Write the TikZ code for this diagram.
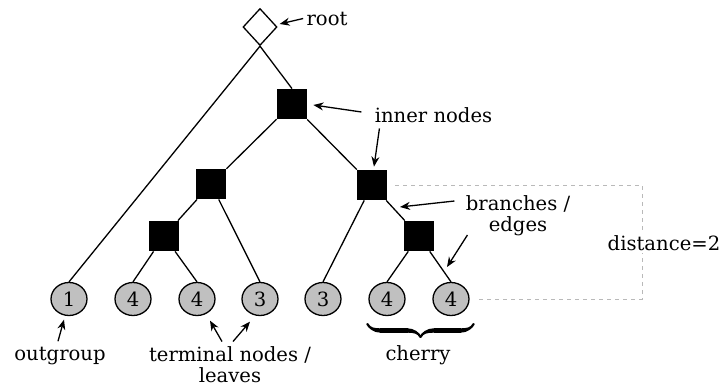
\documentclass[tikz,border=0pt]{standalone}
\usepackage{fontspec}
\setmainfont{DejaVu Serif}
\usepackage{tikz}
\usetikzlibrary{arrows.meta,positioning,shapes,calc,decorations.pathreplacing,calligraphy}
\definecolor{leafgray}{RGB}{192,192,192}
\definecolor{distgray}{RGB}{185,185,185}

\begin{document}
\begin{tikzpicture}[x=0.5pt, y=-0.5pt, font=\fontsize{9.8}{10.5}\selectfont,
    innode/.style={fill=black, minimum size=15pt, inner sep=0pt},
    leafnode/.style={ellipse, draw, line width=0.65pt, fill=leafgray, minimum width=18pt, minimum height=16.5pt, inner sep=0pt},
    branch/.style={line width=0.65pt},
    pointer/.style={-{Stealth[length=5pt,width=4pt]}, line width=0.65pt},
    lbl/.style={inner sep=1.5pt, align=center}]
        \useasboundingbox (0,0) rectangle (722,385);
        % Root and inner nodes
        \node[diamond, draw, line width=0.65pt, minimum width=17pt, minimum height=18.5pt, inner sep=0pt] (root) at (260,27) {};
        \node[innode] (A) at (292,104) {};
        \node[innode] (B) at (211,184) {};
        \node[innode] (C) at (372,185) {};
        \node[innode] (D) at (164,236) {};
        \node[innode] (E) at (419,236) {};
        % Leaves
        \node[leafnode] (L1) at (69,299) {1};
        \node[leafnode] (L2) at (133,299) {4};
        \node[leafnode] (L3) at (197,299) {4};
        \node[leafnode] (L4) at (260,299) {3};
        \node[leafnode] (L5) at (323,299) {3};
        \node[leafnode] (L6) at (387,299) {4};
        \node[leafnode] (L7) at (451,299) {4};
        % Branches
        \draw[branch] (root.south) -- (L1.north);
        \draw[branch] (root.south) -- (A.north);
        \draw[branch] (A) -- (B);
        \draw[branch] (A) -- (C);
        \draw[branch] (B) -- (D);
        \draw[branch] (C) -- (E);
        \draw[branch] (D) -- (L2.north);
        \draw[branch] (D) -- (L3.north);
        \draw[branch] (B) -- (L4.north);
        \draw[branch] (C) -- (L5.north);
        \draw[branch] (E) -- (L6.north);
        \draw[branch] (E) -- (L7.north);
        % Distance between C and its leaf
        \draw[distgray, line width=0.5pt, dash pattern=on 2pt off 2pt] ([xshift=4pt]C.east) -| (642,243) |- ([xshift=4pt]L7.east);
        \node[fill=white, inner sep=1pt] (dist) at (664,243) {distance=2};
        % Labels with arrows
        \node[lbl] (rootlbl) at (327,18.5) {root};
        \draw[pointer] (rootlbl.west) -- ([shift={(2,-3)}]root.east);
        \node[lbl] (innerlbl) at (433.5,115.5) {inner nodes};
        \draw[pointer] ([shift={(-10,-3.5)}]innerlbl.west) -- ([shift={(6,1)}]A.east);
        \draw[pointer] ([shift={(8,2)}]innerlbl.south west) -- ([shift={(2,-3)}]C.north);
        \coordinate (cePt) at (400,207);
        \coordinate (e7Pt) at (447,267);
        \node[lbl] (branchlbl) at (518,216) {branches /\\edges};
        \draw[pointer] ([shift={(-8,-15)}]branchlbl.west) -- (cePt);
        \draw[pointer] ([shift={(5,19)}]branchlbl.west) -- (e7Pt);
        \node[lbl] (outlbl) at (60,356.5) {outgroup};
        \draw[pointer] ([shift={(-2,-3)}]outlbl.north) -- ([shift={(-5,3.5)}]L1.south);
        \node[lbl] (termlbl) at (230,365) {terminal nodes /\\leaves};
        \draw[pointer] ([shift={(-8,-2)}]termlbl.north) -- ([shift={(13,4.5)}]L3.south);
        \draw[pointer] ([shift={(3,-2)}]termlbl.north) -- ([shift={(-10,5.5)}]L4.south);
        % Cherry
        \draw[decorate, decoration={calligraphic brace, amplitude=6.5pt, mirror}, line width=2.2pt] ($(L6.west)+(-1,25)$) -- ($(L7.east)+(4,25)$);
        \node[lbl] (cherrylbl) at (418,355) {cherry};
\end{tikzpicture}
\end{document}
